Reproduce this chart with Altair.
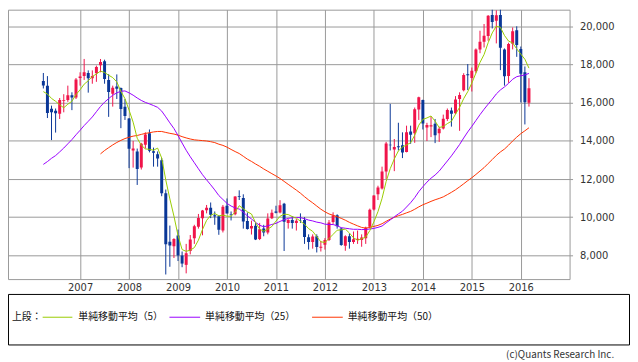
import altair as alt
import pandas as pd

# Monthly candles, Apr 2006 .. Mar 2016 (index 0 = Apr 2006)
opens = [17140, 16900, 15690, 15580, 15430, 16090, 16150, 16400, 16280,
         17300, 17400, 17560, 17290, 17550, 17970, 18180, 17200, 16470, 16850, 16780, 15790,
         15170, 13500, 13450, 12600, 13800, 14400, 13460, 13300, 12990, 11250, 8710, 8480,
         9040, 7990, 7500, 8225, 8900, 9500, 9950, 10360, 10500, 10100, 10050, 9300,
         10600, 10150, 10150, 11100, 11000, 9800, 9400, 9550, 8850, 9400, 9200, 9950,
         10300, 10250, 10700, 9700, 9850, 9700, 9850, 9850, 8950, 8700, 9000, 8400,
         8550, 8800, 9750, 10100, 9400, 8500, 9000, 8700, 8800, 8800, 8900, 9500,
         10400, 11200, 11500, 12400, 13800, 13550, 13720, 13770, 13420, 14500, 14400, 15650,
         16150, 14700, 14750, 14900, 14400, 14650, 15150, 15600, 15450, 16200, 16660, 17500,
         17300, 17650, 18800, 19200, 19500, 20600, 20300, 20600, 18800, 17400, 19100, 19800,
         18818, 17600, 16000]
highs = [17563, 17400, 15850, 15700, 16250, 16450, 16900, 16550, 17300,
         17600, 18300, 17700, 17700, 17950, 18297, 18261, 17500, 16900, 17488, 16800, 16200,
         15200, 14000, 13600, 13900, 14450, 14601, 13650, 13450, 13100, 11450, 9560, 8900,
         9350, 8200, 8600, 9064, 9600, 10170, 10380, 10640, 10770, 10300, 10100, 10640,
         10982, 10300, 11100, 11408, 11200, 10250, 9820, 9700, 9700, 9600, 10200, 10400,
         10600, 10891, 10750, 9900, 10050, 9900, 10200, 10000, 9100, 9100, 9100, 8750,
         8900, 9850, 10255, 10150, 9450, 9050, 9150, 9250, 9300, 9100, 9500, 10450,
         11150, 11650, 12650, 13950, 15942, 14100, 14953, 14450, 14800, 14800, 15750, 16320,
         16164, 14950, 15300, 15150, 14750, 15380, 15700, 15750, 16350, 16550, 17550, 18030,
         17850, 18850, 19780, 20133, 20600, 20952, 20850, 20946, 18850, 19150, 19950, 20012,
         18951, 17905, 17291]
lows = [16750, 15200, 14045, 14437, 15150, 15500, 16050, 15615, 16200,
        16900, 17200, 16532, 17000, 17100, 17600, 17000, 15262, 15800, 16200, 14669, 15100,
        12573, 12600, 11691, 12500, 13600, 13400, 12650, 12650, 11100, 6994, 7400, 7860,
        7700, 7376, 7054, 8050, 8600, 9400, 9050, 10200, 9950, 9600, 9076, 9200,
        10200, 9830, 10100, 10900, 9400, 9350, 9090, 8800, 8800, 9000, 9100, 9900,
        10200, 10200, 8227, 9400, 9400, 9300, 9700, 8600, 8300, 8350, 8150, 8200,
        8300, 8750, 9650, 9400, 8500, 8238, 8350, 8600, 8600, 8450, 8600, 9400,
        10350, 10900, 11450, 12000, 13500, 12415, 13500, 13100, 13400, 13850, 13900, 15100,
        14600, 13995, 14200, 13885, 13950, 14600, 15050, 14750, 15400, 14529, 16600, 16672,
        16592, 17550, 18600, 18900, 19250, 19900, 19115, 17714, 16901, 17050, 18800, 18410,
        16017, 14865, 15800]
closes = [16906, 15467, 15505, 15457, 16140, 16127, 16399, 16274, 17225,
          17383, 17604, 17287, 17400, 17875, 18138, 17248, 16569, 16785, 16737, 15680, 15307,
          13592, 13603, 12525, 13849, 14338, 13481, 13376, 13072, 11259, 8576, 8512, 8859,
          7994, 7568, 8109, 8828, 9522, 9958, 10356, 10492, 10133, 10034, 9345, 10546,
          10198, 10126, 11089, 11057, 9768, 9382, 9537, 8824, 9369, 9202, 9937, 10228,
          10237, 10624, 9755, 9849, 9693, 9816, 9833, 8955, 8700, 8988, 8434, 8455,
          8802, 9723, 10083, 9520, 8542, 9006, 8695, 8839, 8870, 8928, 9446, 10395,
          11139, 11559, 12398, 13861, 13775, 13677, 13668, 13389, 14456, 14327, 15662, 16291,
          14915, 14841, 14828, 14304, 14632, 15162, 15621, 15425, 16174, 16414, 17460, 17451,
          17674, 18798, 19207, 19520, 20563, 20236, 20585, 18890, 17388, 19083, 19747, 19034,
          17518, 16027, 16758]

ma5 = [16586, 16458, 16229, 16079, 15895, 15739, 15926, 16079, 16433, 16682,
       16977, 17155, 17380, 17510, 17661, 17590, 17446, 17323, 17095, 16604,
       16216, 15620, 14984, 14141, 13775, 13581, 13559, 13514, 13623, 13105,
       11953, 10959, 10056, 9040, 8302, 8208, 8272, 8404, 8797, 9355,
       9831, 10092, 10195, 10072, 10110, 10051, 10050, 10261, 10603, 10448,
       10284, 10167, 9714, 9376, 9263, 9374, 9512, 9795, 10046, 10156,
       10139, 10032, 9947, 9789, 9629, 9399, 9258, 8982, 8706, 8676,
       8880, 9099, 9317, 9334, 9375, 9169, 8920, 8790, 8868, 8956,
       9296, 9756, 10293, 10987, 11870, 12546, 13054, 13476, 13674, 13793,
       13903, 14300, 14825, 15130, 15207, 15307, 15036, 14704, 14753, 14909,
       15029, 15403, 15759, 16219, 16585, 17035, 17559, 18118, 18530, 19152,
       19665, 20022, 19959, 19532, 19236, 19139, 18828, 18554, 18283, 17818]
ma25 = [12769, 12917, 13088, 13231, 13424, 13626, 13849, 14069, 14322, 14558,
        14806, 15028, 15257, 15532, 15807, 16033, 16220, 16395, 16521, 16604,
        16622, 16521, 16399, 16252, 16123, 16021, 15941, 15856, 15761, 15565,
        15263, 14948, 14651, 14282, 13889, 13510, 13171, 12856, 12539, 12228,
        11958, 11700, 11430, 11135, 10929, 10725, 10586, 10486, 10427, 10264,
        10066, 9908, 9726, 9578, 9495, 9550, 9618, 9674, 9779, 9866,
        9936, 9970, 9982, 9977, 9921, 9849, 9804, 9740, 9704, 9634,
        9615, 9614, 9551, 9450, 9420, 9392, 9364, 9366, 9349, 9358,
        9377, 9413, 9466, 9537, 9701, 9858, 10018, 10172, 10314, 10534,
        10759, 11026, 11340, 11599, 11840, 12044, 12213, 12418, 12683, 12947,
        13216, 13510, 13811, 14153, 14473, 14764, 15070, 15376, 15661, 15929,
        16188, 16464, 16673, 16833, 17018, 17235, 17370, 17419, 17463, 17540]
ma50 = [None] * 14 + [
        13320, 13497, 13646, 13791, 13919, 14028, 14123, 14193, 14251, 14286,
        14342, 14395, 14429, 14472, 14496, 14495, 14445, 14398, 14360, 14302,
        14224, 14158, 14100, 14057, 14036, 14017, 13996, 13960, 13913, 13828,
        13767, 13673, 13554, 13442, 13339, 13194, 13043, 12924, 12791, 12669,
        12530, 12407, 12283, 12162, 12030, 11878, 11723, 11571, 11419, 11258,
        11075, 10904, 10752, 10585, 10419, 10282, 10170, 10100, 10018, 9939,
        9842, 9729, 9636, 9546, 9463, 9427, 9463, 9516, 9570, 9658,
        9784, 9897, 9994, 10077, 10146, 10228, 10304, 10415, 10540, 10651,
        10737, 10830, 10913, 10984, 11066, 11183, 11304, 11437, 11589, 11751,
        11916, 12070, 12242, 12421, 12599, 12815, 13023, 13241, 13422, 13573,
        13776, 13997, 14198, 14380, 14531, 14690]

year_labels = [2007, 2008, 2009, 2010, 2011, 2012, 2013, 2014, 2015, 2016]
y_ticks = [8000, 10000, 12000, 14000, 16000, 18000, 20000]
legend_names = ["単純移動平均（5）", "単純移動平均（25）", "単純移動平均（50）"]

RED = "#F0144A"
BLUE = "#0A3797"
C5 = "#99CC00"
C25 = "#9900FF"
C50 = "#FF3300"
FONT_JP = "Noto Sans CJK JP"

n = len(closes)
candles = pd.DataFrame({"i": list(range(n)), "open": opens, "high": highs,
                        "low": lows, "close": closes})


def ma_frame(vals):
    rows = [{"i": i, "v": v} for i, v in enumerate(vals) if v is not None]
    return pd.DataFrame(rows)


# Jan of each labelled year, as month index from Apr 2006
tick_idx = [(y - 2006) * 12 - 3 for y in year_labels]

x_scale = alt.Scale(domain=[-7.45, 127.74], nice=False, zero=False)
y_scale = alt.Scale(domain=[6753, 20883], nice=False, zero=False)

x_axis = alt.Axis(values=tick_idx, labelExpr="'' + (2006 + (datum.value + 3) / 12)",
                  grid=True, ticks=False, domain=False, labelPadding=4,
                  labelFlush=False, title=None)
y_axis = alt.Axis(orient="right", values=y_ticks, format=",d", grid=True,
                  tickSize=3, labelPadding=7, domain=False, title=None)

up = "datum.close >= datum.open"

wicks = alt.Chart(candles).mark_rule(strokeWidth=1, clip=True).encode(
    x=alt.X("i:Q", scale=x_scale, axis=x_axis, title=None),
    y=alt.Y("low:Q", scale=y_scale, axis=y_axis, title=None),
    y2="high:Q",
    color=alt.condition(up, alt.value(RED), alt.value(BLUE)),
)
bodies = alt.Chart(candles).mark_bar(size=3, clip=True).encode(
    x=alt.X("i:Q", title=None),
    y=alt.Y("open:Q", title=None),
    y2="close:Q",
    color=alt.condition(up, alt.value(RED), alt.value(BLUE)),
)


def ma_line(vals, col):
    return alt.Chart(ma_frame(vals)).mark_line(strokeWidth=1, color=col, clip=True).encode(
        x=alt.X("i:Q", title=None), y=alt.Y("v:Q", title=None))


one = pd.DataFrame({"k": [0]})
LEG_Y = 310.5

box = alt.Chart(one).mark_rect(fillOpacity=0, stroke="black", strokeWidth=1).encode(
    x=alt.value(0.5), x2=alt.value(627.5), y=alt.value(287.5), y2=alt.value(338.5))


def leg_text(txt, x, **kw):
    return alt.Chart(one).mark_text(align="left", baseline="middle", font=FONT_JP,
                                    fontSize=10, color="#111", **kw).encode(
        x=alt.value(x), y=alt.value(LEG_Y), text=alt.value(txt))


def leg_line(x1, x2, col):
    return alt.Chart(one).mark_rule(strokeWidth=1, color=col).encode(
        x=alt.value(x1), x2=alt.value(x2), y=alt.value(LEG_Y))


legend = [
    leg_text("上段：", 4),
    leg_line(35, 65, C5), leg_text(legend_names[0], 71),
    leg_line(163, 194, C25), leg_text(legend_names[1], 199),
    leg_line(307, 338, C50), leg_text(legend_names[2], 343),
]

credit = alt.Chart(one).mark_text(align="right", baseline="middle", font=FONT_JP,
                                  fontSize=10, color="#333").encode(
    x=alt.value(612), y=alt.value(349), text=alt.value("(c)Quants Research Inc."))

chart = alt.layer(
    wicks, bodies,
    ma_line(ma50, C50), ma_line(ma25, C25), ma_line(ma5, C5),
    box, *legend, credit,
).properties(width=567, height=272, padding=0).configure_axis(
    labelFont="DejaVu Sans", labelFontSize=10, labelColor="#333",
    gridColor="#999999", gridWidth=1, tickColor="#999999",
).configure_view(stroke="#999999", strokeWidth=1)

chart.save("out.html", embed_options={"renderer": "svg", "actions": False})
